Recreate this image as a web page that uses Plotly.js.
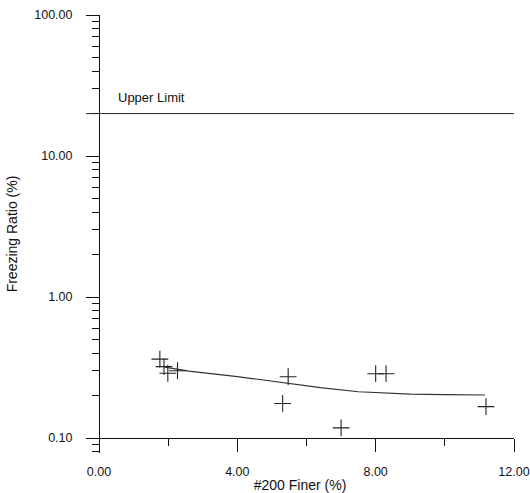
<!DOCTYPE html>
<html>
<head>
<meta charset="utf-8">
<script src="https://cdn.plot.ly/plotly-3.0.1.min.js"></script>
<style>html,body{margin:0;padding:0;background:#fff;}#chart{width:530px;height:493px;}</style>
</head>
<body>
<div id="chart"></div>
<script>
// Measured points (#200 finer %, freezing ratio %)
var finer = [1.76, 1.88, 1.99, 2.27, 5.31, 5.47, 7.0, 8.0, 8.3, 11.19];
var ratio = [0.363, 0.321, 0.288, 0.300, 0.176, 0.272, 0.118, 0.286, 0.286, 0.167];
// Trend curve
var curveX = [1.9, 2.6, 4.0, 5.5, 6.4, 7.5, 9.0, 10.0, 11.16];
var curveY = [0.318, 0.298, 0.273, 0.244, 0.228, 0.213, 0.205, 0.203, 0.202];
// Upper limit
var upperLimit = 20;
var upperLabel = "Upper Limit";
// Axis tick labels
var xTickVals = [0, 4, 8, 12];
var xTickText = ["0.00", "4.00", "8.00", "12.00"];
var yTickVals = [0.1, 1, 10, 100];
var yTickText = ["0.10", "1.00", "10.00", "100.00"];

var FONT = "Liberation Sans, Arial, sans-serif";
var INK = "#111";

var traces = [
  {
    x: curveX, y: curveY, type: "scatter", mode: "lines",
    line: {color: "#333", width: 1.2}, hoverinfo: "skip", showlegend: false
  },
  {
    x: finer, y: ratio, type: "scatter", mode: "markers",
    marker: {symbol: "cross-thin", size: 12, line: {color: "#222", width: 1.1}},
    showlegend: false
  }
];

var layout = {
  width: 530, height: 493,
  margin: {l: 86, r: 16, t: 15, b: 40},
  paper_bgcolor: "#fff", plot_bgcolor: "#fff",
  font: {family: FONT, size: 12, color: INK},
  showlegend: false,
  xaxis: {
    range: [-0.376, 12],
    anchor: "free", position: 0.0342,
    tickmode: "array", tickvals: xTickVals, ticktext: xTickText,
    ticks: "outside", ticklen: 13, tickwidth: 1, tickcolor: INK,
    minor: {ticks: "outside", ticklen: 7, tickwidth: 1, tickcolor: INK, tickmode: "linear", tick0: 0, dtick: 2},
    showline: true, linecolor: INK, linewidth: 1,
    showgrid: false, zeroline: false,
    tickfont: {family: FONT, size: 12.5, color: INK},
    ticklabelstandoff: 9,
    title: {text: "#200 Finer (%)", font: {family: FONT, size: 14, color: INK}, standoff: 6}
  },
  yaxis: {
    type: "log",
    range: [-1.106, 2],
    anchor: "free", position: 0.0304,
    tickmode: "array", tickvals: yTickVals, ticktext: yTickText,
    ticks: "outside", ticklen: 13, tickwidth: 1, tickcolor: INK,
    minor: {ticks: "outside", ticklen: 7, tickwidth: 1, tickcolor: INK, dtick: "D1"},
    showline: true, linecolor: INK, linewidth: 1,
    showgrid: false, zeroline: false,
    tickfont: {family: FONT, size: 12.5, color: INK},
    ticklabelstandoff: 11,
    title: {text: "Freezing Ratio (%)", font: {family: FONT, size: 14, color: INK}, standoff: 12}
  },
  shapes: [
    {type: "line", xref: "paper", x0: 0, x1: 1, yref: "y", y0: upperLimit, y1: upperLimit,
     line: {color: "#222", width: 1}}
  ],
  annotations: [
    {text: upperLabel, x: 0.5, y: Math.log10(upperLimit), xref: "x", yref: "y",
     xanchor: "left", yanchor: "bottom", yshift: 7, showarrow: false,
     font: {family: FONT, size: 13, color: INK}}
  ]
};

Plotly.newPlot("chart", traces, layout, {displayModeBar: false, staticPlot: true});
</script>
</body>
</html>
